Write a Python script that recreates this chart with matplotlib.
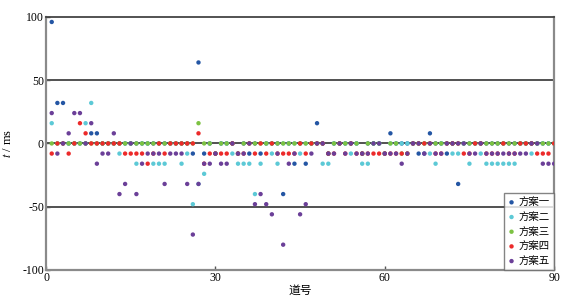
import numpy as np
import matplotlib.pyplot as plt

plt.rcParams['font.family'] = ['Liberation Serif', 'Noto Sans CJK SC']
plt.rcParams['mathtext.fontset'] = 'stix'

# trace number 1..90
trace = np.arange(1, 91)

# time shift (ms) per scheme
fa1 = [96, 32, 32, 0, 0, 0, 0, 8, 8, 0,
       0, 0, 0, 0, 0, 0, 0, 0, 0, 0,
       0, 0, 0, 0, 0, -8, 64, -8, 0, -8,
       0, 0, 0, -8, 0, -8, 0, -8, 0, 0,
       0, -40, 0, -16, 0, -16, 0, 16, 0, -8,
       0, 0, 0, 0, 0, -8, 0, 0, 0, -8,
       8, 0, 0, 0, 0, -8, -8, 8, 0, 0,
       -8, 0, -32, 0, 0, 0, 0, 0, 0, 0,
       0, 0, 0, 0, 0, 0, 0, 0, 0, 0]
fa2 = [16, 0, 0, 0, 0, 0, 16, 32, 0, 0,
       0, 0, -8, 0, 0, -16, 0, 0, -16, -16,
       -16, 0, 0, -16, -8, -48, -32, -24, 0, -8,
       0, 0, -8, -16, -16, -16, -40, -16, 0, -8,
       -16, 0, 0, 0, -8, 0, 0, 0, -16, -16,
       0, 0, 0, -8, 0, -16, -16, 0, 0, -8,
       0, 0, 0, 0, 0, 0, 0, -8, -16, 0,
       0, -8, -8, 0, -16, 0, -8, -16, -16, -16,
       -16, -16, -16, 0, 0, -8, 0, 0, 0, 0]
fa3 = [0, 0, 0, 0, 0, 0, 0, 0, 0, 0,
       0, 0, 0, 0, 0, 0, 0, 0, 0, 0,
       0, 0, 0, 0, 0, 0, 16, 0, 0, -8,
       0, 0, 0, -8, 0, 0, 0, 0, 0, 0,
       0, 0, 0, 0, 0, 0, 0, 0, 0, -8,
       0, 0, 0, 0, 0, -8, 0, 0, 0, -8,
       0, 0, -8, -8, 0, 0, 0, 0, 0, 0,
       0, 0, 0, 0, 0, 0, 0, 0, 0, 0,
       0, 0, 0, 0, 0, 0, 0, 0, 0, 0]
fa4 = [-8, 0, 0, -8, 0, 16, 8, 0, 0, 0,
       0, 0, 0, -8, -8, -8, -8, -16, -8, 0,
       -8, 0, 0, 0, 0, 0, 8, -16, -8, -8,
       -8, -8, 0, -8, -8, 0, -8, 0, -8, 0,
       -8, -8, -8, -8, 0, -8, 0, 0, 0, -8,
       -8, 0, -8, 0, -8, -8, -8, -8, -8, -8,
       -8, -8, -8, -8, 0, 0, 0, 0, -8, -8,
       0, 0, 0, -8, -8, 0, 0, -8, -8, -8,
       0, -8, -8, 0, 0, 0, -8, -8, -8, 0]
fa5 = [24, -8, 0, 8, 24, 24, 0, 16, -16, -8,
       -8, 8, -40, -32, 0, -40, -16, -8, -8, -8,
       -32, -8, -8, -8, -32, -72, -32, -16, -16, -8,
       -16, -16, 0, -8, -8, 0, -48, -40, -48, -56,
       -8, -80, -16, -8, -56, -48, -8, 0, 0, -8,
       -8, 0, -8, 0, -8, -8, -8, 0, 0, -8,
       -8, -8, -16, -8, 0, 0, -8, 0, -8, -8,
       0, 0, 0, 0, -8, -8, 0, -8, -8, -8,
       -8, -8, -8, -8, -8, 0, 0, -16, -16, -16]

names = ['方案一', '方案二', '方案三', '方案四', '方案五']
colors = ['#2456a4', '#5cc9d6', '#7cc242', '#ec2a2a', '#6b3f98']

fig = plt.figure(figsize=(5.76, 3.02), dpi=100)
ax = fig.add_axes([0.080, 0.106, 0.882, 0.838])

for y in (-50, 0, 50):
    ax.axhline(y, color='#222222', lw=1.1, zorder=1)

for vals, name, c in zip([fa1, fa2, fa3, fa4, fa5], names, colors):
    ax.scatter(trace, vals, s=10, color=c, edgecolors='none', label=name, zorder=3)

ax.set_xlim(0, 90)
ax.set_ylim(-100, 100)
ax.set_xticks([0, 30, 60, 90])
ax.set_yticks([-100, -50, 0, 50, 100])
ax.set_yticklabels(['-100', '-50', '0', '50', '100'])
ax.tick_params(direction='in', length=3, width=1, color='#555555',
               labelsize=8.5, pad=1.5)

for side in ['left', 'bottom', 'right']:
    ax.spines[side].set_color('#8a8a8a')
    ax.spines[side].set_linewidth(1.6)
ax.spines['top'].set_color('#444444')
ax.spines['top'].set_linewidth(1.3)

ax.set_xlabel('道号', fontsize=8.5, family=['Noto Sans CJK SC'], labelpad=0)
ax.set_ylabel('$t$ / ms', fontsize=9, labelpad=6)

leg = ax.legend(loc='lower right', borderaxespad=0,
                prop={'family': ['Noto Sans CJK SC'], 'size': 7.5},
                handlelength=0.6, handletextpad=0.4, labelspacing=0.45,
                borderpad=0.4, fancybox=False, markerscale=1.0)
leg.get_frame().set_edgecolor('#666666')
leg.get_frame().set_linewidth(1.0)

fig.savefig('out.png', dpi=100)
